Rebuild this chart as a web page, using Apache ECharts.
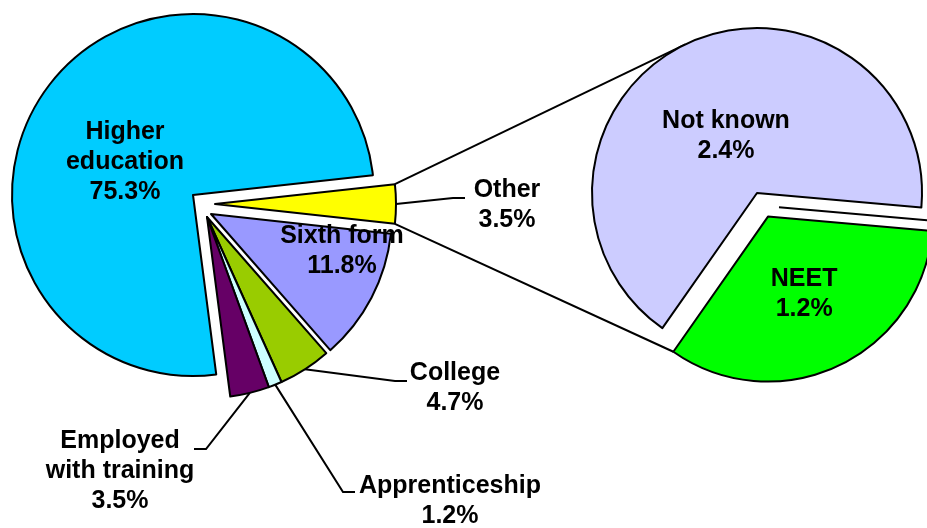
<!DOCTYPE html>
<html>
<head>
<meta charset="utf-8">
<script src="https://cdn.jsdelivr.net/npm/echarts@6/dist/echarts.min.js"></script>
<style>
html, body { margin: 0; background: #fff; }
#chart { width: 927px; height: 528px; }
</style>
</head>
<body>
<div id="chart"></div>
<script>
// main pie, clockwise from the "Other" slice at 3 o'clock
var leftNames = ['Other', 'Sixth form', 'College', 'Apprenticeship', 'Employed with training', 'Higher education'];
var leftValues = [3.5, 11.8, 4.7, 1.2, 3.5, 75.3];
// breakdown of "Other"
var rightNames = ['NEET', 'Not known'];
var rightValues = [1.2, 2.4];

var labelText = {
    'Higher education': 'Higher\neducation',
    'Employed with training': 'Employed\nwith training'
};
var colors = {
    'Other': '#FFFF00',
    'Sixth form': '#9999FF',
    'College': '#99CC00',
    'Apprenticeship': '#CCFFFF',
    'Employed with training': '#660066',
    'Higher education': '#00CCFF',
    'NEET': '#00FF00',
    'Not known': '#CCCCFF'
};
// label centres, and where the leader line meets the label (ax, ay)
var labelPos = {
    'Higher education': { x: 125, y: 162 },
    'Sixth form': { x: 342, y: 251 },
    'Other': { x: 507, y: 205, ax: -42, ay: -7 },
    'College': { x: 455, y: 388, ax: -48, ay: -7 },
    'Apprenticeship': { x: 450, y: 501, ax: -95, ay: -9 },
    'Employed with training': { x: 120, y: 471, ax: 74, ay: -22 },
    'Not known': { x: 726, y: 136 },
    'NEET': { x: 809, y: 300 }
};
var outsideLabels = ['Other', 'College', 'Apprenticeship', 'Employed with training'];

var R1 = 181, R2 = 165;
var rightCenter = [757, 193];
var neetOffset = 26;
var rightStart = -5;
var lw = 2;

// each group of the main pie has its own centre (exploded slices)
var groups = [
    { center: [193, 195], names: ['Higher education'] },
    { center: [215, 204], names: ['Other'] },
    { center: [211, 214], names: ['Sixth form'] },
    { center: [207, 217], names: ['College', 'Apprenticeship', 'Employed with training'] }
];

var leftTotal = leftValues.reduce(function (a, b) { return a + b; }, 0);
var otherHalf = leftValues[0] / leftTotal * 180;

var textStyle = {
    fontFamily: 'Liberation Sans, Arial, sans-serif',
    fontWeight: 'bold',
    fontSize: 25,
    lineHeight: 30,
    color: '#000'
};

function fmt(p) {
    return (labelText[p.name] || p.name) + '\n' + p.value.toFixed(1) + '%';
}

function placeLabel(names, visible) {
    return function (p) {
        var name = names[p.dataIndex];
        if (visible.indexOf(name) < 0) return {};
        var pos = labelPos[name];
        var out = { x: pos.x, y: pos.y, align: 'center', verticalAlign: 'middle' };
        if (pos.ax != null && p.labelLinePoints) {
            var ex = pos.x + pos.ax, ey = pos.y + pos.ay;
            var bx = ex + (pos.ax < 0 ? -12 : 12);
            out.labelLinePoints = [p.labelLinePoints[0], [bx, ey], [ex, ey]];
        }
        return out;
    };
}

var series = groups.map(function (g) {
    return {
        type: 'pie',
        center: g.center,
        radius: R1,
        startAngle: otherHalf,
        clockwise: true,
        avoidLabelOverlap: false,
        silent: true,
        emphasis: { disabled: true },
        label: Object.assign({ formatter: fmt }, textStyle),
        labelLine: { lineStyle: { color: '#000', width: lw } },
        labelLayout: placeLabel(leftNames, g.names),
        data: leftNames.map(function (n, i) {
            var on = g.names.indexOf(n) >= 0;
            var out = outsideLabels.indexOf(n) >= 0;
            return {
                name: n,
                value: leftValues[i],
                itemStyle: on ? { color: colors[n], borderColor: '#000', borderWidth: lw }
                              : { color: 'rgba(0,0,0,0)', borderWidth: 0 },
                label: { show: on, position: out ? 'outside' : 'inside' },
                labelLine: { show: on && out, length: 20, length2: 10 }
            };
        })
    };
});

series.push({
    type: 'pie',
    center: rightCenter,
    radius: R2,
    startAngle: rightStart,
    clockwise: true,
    selectedMode: 'multiple',
    selectedOffset: neetOffset,
    avoidLabelOverlap: false,
    silent: true,
    emphasis: { disabled: true },
    label: Object.assign({ formatter: fmt, position: 'inside' }, textStyle),
    labelLine: { show: false },
    labelLayout: placeLabel(rightNames, rightNames),
    itemStyle: { borderColor: '#000', borderWidth: lw },
    data: rightNames.map(function (n, i) {
        return { name: n, value: rightValues[i], selected: n === 'NEET', itemStyle: { color: colors[n] } };
    })
});

// connector lines from the "Other" slice to the second pie
var oc = groups[1].center;
var rad = Math.PI / 180;
var topCorner = [oc[0] + R1 * Math.cos(otherHalf * rad), oc[1] - R1 * Math.sin(otherHalf * rad)];
var botCorner = [oc[0] + R1 * Math.cos(otherHalf * rad), oc[1] + R1 * Math.sin(otherHalf * rad)];

// tangent point on the second pie from the top corner
var dx = topCorner[0] - rightCenter[0], dy = -(topCorner[1] - rightCenter[1]);
var d = Math.sqrt(dx * dx + dy * dy);
var tAng = Math.atan2(dy, dx) - Math.acos(R2 / d);
var topEnd = [rightCenter[0] + R2 * Math.cos(tAng), rightCenter[1] - R2 * Math.sin(tAng)];

// bottom line ends at the corner of the exploded NEET slice
var rightTotal = rightValues[0] + rightValues[1];
var neetSpan = rightValues[0] / rightTotal * 360;
var neetMid = (rightStart - neetSpan / 2) * rad;
var neetC = [rightCenter[0] + neetOffset * Math.cos(neetMid), rightCenter[1] - neetOffset * Math.sin(neetMid)];
var neetEndAng = (rightStart - neetSpan) * rad;
var botEnd = [neetC[0] + R2 * Math.cos(neetEndAng), neetC[1] - R2 * Math.sin(neetEndAng)];

// stray edge line in the gap between the two slices of the second pie
var gapBase = [rightCenter[0] + neetOffset * 0.55 * Math.cos(neetMid), rightCenter[1] - neetOffset * 0.55 * Math.sin(neetMid)];
var sa = rightStart * rad;
var gapLine = [
    [gapBase[0] + 16 * Math.cos(sa), gapBase[1] - 16 * Math.sin(sa)],
    [gapBase[0] + (R2 + 3) * Math.cos(sa), gapBase[1] - (R2 + 3) * Math.sin(sa)]
];

var lineStyle = { stroke: '#000', lineWidth: lw, fill: null };
var chart = echarts.init(document.getElementById('chart'));
chart.setOption({
    backgroundColor: '#fff',
    animation: false,
    graphic: [
        { type: 'polyline', z: -1, shape: { points: [topCorner, topEnd] }, style: lineStyle },
        { type: 'polyline', z: -1, shape: { points: [botCorner, botEnd] }, style: lineStyle },
        { type: 'polyline', z: 10, shape: { points: gapLine }, style: lineStyle }
    ],
    series: series
});
window.addEventListener('resize', chart.resize);
</script>
</body>
</html>
